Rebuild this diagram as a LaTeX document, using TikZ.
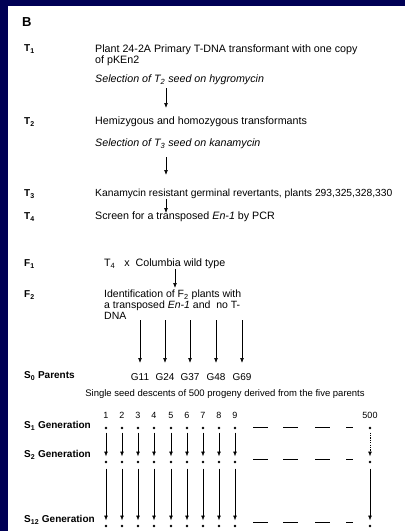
\documentclass[tikz,border=0pt]{standalone}
\usepackage{fontspec}
\setmainfont{Liberation Sans}
\usetikzlibrary{arrows.meta}
\definecolor{navy}{RGB}{0,0,85}
\begin{document}
\begin{tikzpicture}[x=1pt,y=-1pt,
  lab/.style={anchor=west,inner sep=0pt,font=\fontsize{10}{12}\selectfont\bfseries},
  txt/.style={anchor=west,inner sep=0pt,font=\fontsize{10.7}{12}\selectfont},
  itx/.style={anchor=west,inner sep=0pt,font=\fontsize{10.7}{12}\selectfont\itshape},
  blk/.style={anchor=north west,inner sep=0pt,align=left,font=\fontsize{10.5}{10.6}\selectfont},
  arr/.style={-{Latex[length=5pt,width=3.8pt]},line width=0.6pt},
  dotn/.style={circle,fill,inner sep=0pt,minimum size=2.6pt},
  dsh/.style={line width=0.7pt},
]
\fill[white] (0,0) rectangle (405,531);
\fill[navy] (0,0) rectangle (405,6);
\fill[navy] (0,0) rectangle (8,531);
\useasboundingbox (0,0) rectangle (405,531);

\node[anchor=west,inner sep=0pt,font=\fontsize{13}{14}\selectfont\bfseries] (B) at (22,22) {B};

% left labels
\node[lab] (L1) at (24,49) {T\textsubscript{1}};
\node[lab] (L2) at (24,122) {T\textsubscript{2}};
\node[lab] (L3) at (24,194) {T\textsubscript{3}};
\node[lab] (L4) at (24,217) {T\textsubscript{4}};
\node[lab] (L5) at (24,264) {F\textsubscript{1}};
\node[lab] (L6) at (24,295) {F\textsubscript{2}};
\node[lab] (L7) at (24,376) {S\textsubscript{0} Parents};
\node[lab] (L8) at (24,426) {S\textsubscript{1} Generation};
\node[lab] (L9) at (24,455) {S\textsubscript{2} Generation};
\node[lab] (L10) at (24,520) {S\textsubscript{12} Generation};

% main texts
\node[blk,font=\fontsize{10.7}{10.5}\selectfont] (t1) at (95,45) {Plant 24-2A Primary T-DNA transformant with one copy\\of pKEn2};
\node[itx] (s2) at (95,80) {Selection of T\textsubscript{2} seed on hygromycin};
\node[txt] (t2) at (95,122) {Hemizygous and homozygous transformants};
\node[itx] (s3) at (95,144) {Selection of T\textsubscript{3} seed on kanamycin};
\node[txt,font=\fontsize{10.3}{12}\selectfont] (t3) at (95,194) {Kanamycin resistant germinal revertants, plants 293,325,328,330};
\node[txt] (t4) at (95,217) {Screen for a transposed \textit{En-1} by PCR};
\node[txt] (f1) at (104,264) {T\textsubscript{4}\ \ \ x\ \ Columbia wild type};
\node[blk] (f2) at (104,290) {Identification of F\textsubscript{2} plants with\\a transposed \textit{En-1} and\ \ no T-\\DNA};

\coordinate (a1s) at (166,88);  \coordinate (a1e) at (166,108);
\coordinate (a2s) at (166,157); \coordinate (a2e) at (166,175);
\coordinate (a3s) at (166,199); \coordinate (a3e) at (166,213);
\coordinate (a4s) at (175,269); \coordinate (a4e) at (175,288);
\draw[arr] (a1s) -- (a1e);
\draw[arr] (a2s) -- (a2e);
\draw[arr] (a3s) -- (a3e);
\draw[arr] (a4s) -- (a4e);

% parents
\foreach \g/\x in {G11/140,G24/165,G37/190,G48/216,G69/242}{
  \coordinate (p\g) at (\x,320);
  \coordinate (q\g) at (\x,363);
  \node[inner sep=0pt,font=\fontsize{10}{12}\selectfont] (\g) at (\x,377) {\g};
  \draw[arr] (p\g) -- (q\g);
}

\node[inner sep=0pt,font=\fontsize{9.5}{12}\selectfont] (ssd) at (225,394) {Single seed descents of 500 progeny derived from the five parents};

% generations
\foreach \i/\x in {1/106,2/122,3/138,4/154,5/171,6/187,7/203,8/219,9/235,500/370}{
  \node[inner sep=0pt,font=\fontsize{9}{10}\selectfont] (n\i) at (\x,415) {\i};
  \node[dotn] (da\i) at (\x,428) {};
  \node[dotn] (db\i) at (\x,462) {};
  \node[dotn] (dc\i) at (\x,526) {};
  \draw[arr,shorten <=5pt,shorten >=4pt] (db\i) -- (dc\i);
}
\foreach \i in {1,2,3,4,5,6,7,8,9}{
  \draw[arr,shorten <=3pt,shorten >=4pt] (da\i) -- (db\i);
}
\draw[arr,dash pattern=on 1.2pt off 1.2pt,shorten <=3pt,shorten >=4pt] (da500) -- (db500);

\foreach \y in {427,459,522}{
  \draw[dsh] (253,\y) -- (268,\y);
  \draw[dsh] (283,\y) -- (298,\y);
  \draw[dsh] (315,\y) -- (330,\y);
  \draw[dsh] (346,\y) -- (353,\y);
}
\end{tikzpicture}
\end{document}
